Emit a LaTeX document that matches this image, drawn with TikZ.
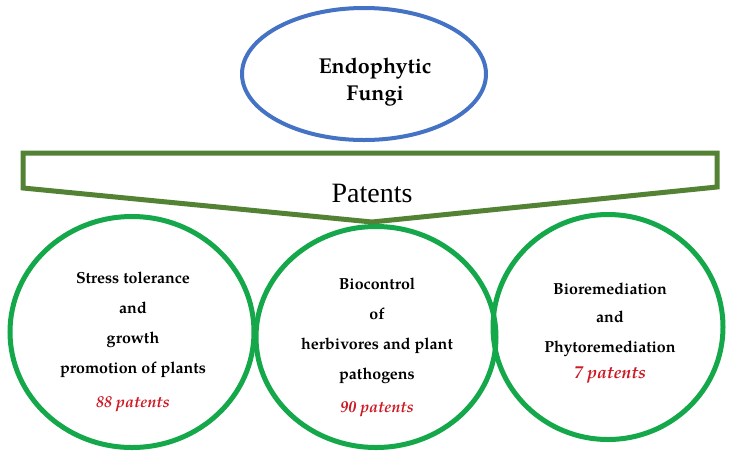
\documentclass[tikz,border=0pt]{standalone}
\usepackage{fontspec}
\setmainfont{Liberation Serif}
\newfontfamily\palafont{texgyrepagella}[Extension=.otf, UprightFont=*-regular, BoldFont=*-bold, ItalicFont=*-italic, BoldItalicFont=*-bolditalic]
\usetikzlibrary{shapes.geometric}
\definecolor{fungiblue}{RGB}{68,114,196}
\definecolor{bandgreen}{RGB}{84,130,53}
\definecolor{ringgreen}{RGB}{20,168,75}
\definecolor{countred}{RGB}{205,25,35}
\tikzstyle{source}=[draw=fungiblue, line width=4pt, ellipse, minimum width=244pt, minimum height=132pt, inner sep=0pt]
\tikzstyle{field}=[draw=ringgreen, line width=5pt, ellipse, inner sep=0pt]
\tikzstyle{band}=[draw=bandgreen, line width=5pt, line join=miter]
\tikzstyle{label}=[align=center, inner sep=0pt, font=\palafont\bfseries\fontsize{16}{19}\selectfont]
\newcommand{\patentcount}[1]{\textcolor{countred}{\itshape #1 patents}}

\begin{document}
\begin{tikzpicture}[x=1pt, y=-1pt]
  \useasboundingbox (0, 0) rectangle (731, 459);
  \node[source] (fungi) at (364, 74) {};
  \node[align=center, inner sep=0pt, font=\palafont\bfseries\fontsize{21.5}{26}\selectfont]
    (fungitext) at (375, 82) {Endophytic\\[1pt]Fungi};

  % the three fields
  \node[field, minimum width=244pt, minimum height=231pt] (stress) at (132, 332) {};
  \node[field, minimum width=240pt, minimum height=221pt] (biocontrol) at (376, 337) {};
  \node[field, minimum width=230pt, minimum height=225pt] (remediation) at (608, 327) {};

  \draw[band]
    (23, 153) -- (717, 153) -- (717, 187)
    -- (372, 222) -- (23, 188) -- cycle;
  \node[anchor=base, inner sep=0pt, font=\fontsize{28}{32}\selectfont]
    (patents) at (372, 202) {Patents};

  \node[label] (stresstext) at (133, 341.5)
    {Stress tolerance\\[11pt]and\\[11pt]growth\\[11pt]promotion of plants\\[15pt]\patentcount{88}};
  \node[label] (biocontroltext) at (377, 347)
    {Biocontrol\\[11pt]of\\[11pt]herbivores and plant\\[11pt]pathogens\\[14pt]\patentcount{90}};
  \node[label] (remediationtext) at (610, 333)
    {Bioremediation\\[9pt]and\\[11pt]Phytoremediation\\[7pt]{\fontsize{17.5}{19}\selectfont\patentcount{7}}};
\end{tikzpicture}
\end{document}
